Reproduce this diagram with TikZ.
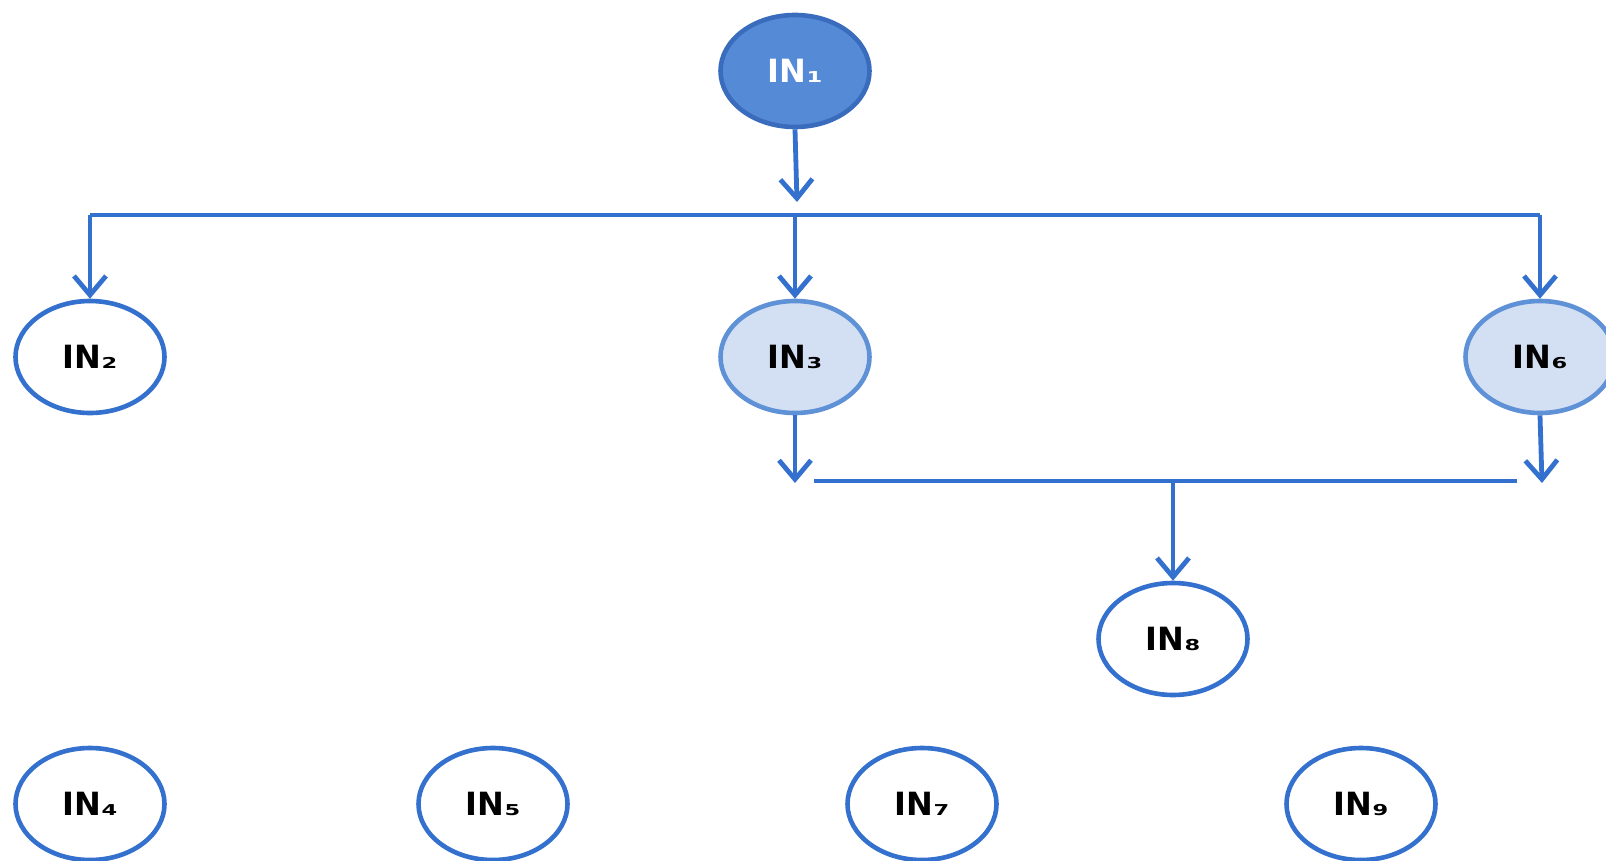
\documentclass[tikz,border=0pt]{standalone}
\usepackage{fontspec}
\setmainfont{DejaVu Sans}
\usetikzlibrary{shapes.geometric,arrows.meta}
\definecolor{lineblue}{RGB}{52,112,205}
\definecolor{darkfill}{RGB}{85,138,215}
\definecolor{darkedge}{RGB}{58,108,190}
\definecolor{lightfill}{RGB}{211,224,243}
\definecolor{lightedge}{RGB}{95,145,215}
\newcommand{\lbl}[2]{\fontsize{32}{32}\selectfont\bfseries #1\scalebox{1.5}[1]{\fontsize{15}{15}\selectfont\bfseries #2}}
\tikzset{
  nodeell/.style={ellipse, draw=lineblue, line width=4.6pt, fill=white,
    minimum width=149pt, minimum height=112pt, inner sep=0pt, text=black},
  topell/.style={nodeell, draw=darkedge, fill=darkfill, text=white},
  lightell/.style={nodeell, draw=lightedge, fill=lightfill},
  conn/.style={draw=lineblue, line width=4.8pt},
  arr/.style={conn, -{Straight Barb[length=19pt,width=32pt,line width=4.8pt]}}
}
\begin{document}
\begin{tikzpicture}[x=1pt,y=-1pt]
\useasboundingbox (0,0) rectangle (1606,861);
\node[topell] (n1) at (795,71) {\lbl{IN}{1}};
\node[nodeell] (n2) at (90,357) {\lbl{IN}{2}};
\node[lightell] (n3) at (795,357) {\lbl{IN}{3}};
\node[lightell] (n6) at (1540,357) {\lbl{IN}{6}};
\node[nodeell] (n8) at (1173,639) {\lbl{IN}{8}};
\node[nodeell] (n4) at (90,804) {\lbl{IN}{4}};
\node[nodeell] (n5) at (493,804) {\lbl{IN}{5}};
\node[nodeell] (n7) at (922,804) {\lbl{IN}{7}};
\node[nodeell] (n9) at (1361,804) {\lbl{IN}{9}};
% top bus
\coordinate (t1) at (797,202);
\coordinate (bl) at (90,215);
\coordinate (bm) at (795,215);
\coordinate (br) at (1540,215);
\draw[arr] (n1.south) -- (t1);
\draw[conn] (bl) -- (br);
\draw[arr] (bl) -- (n2.north);
\draw[arr] (bm) -- (n3.north);
\draw[arr] (br) -- (n6.north);
% lower bus
\coordinate (t3) at (795,483);
\coordinate (t6) at (1542,483);
\coordinate (ll) at (814,481);
\coordinate (lr) at (1517,481);
\coordinate (lj) at (1173,481);
\draw[arr] (n3.south) -- (t3);
\draw[arr] (n6.south) -- (t6);
\draw[conn] (ll) -- (lr);
\draw[arr] (lj) -- (n8.north);
\end{tikzpicture}
\end{document}
